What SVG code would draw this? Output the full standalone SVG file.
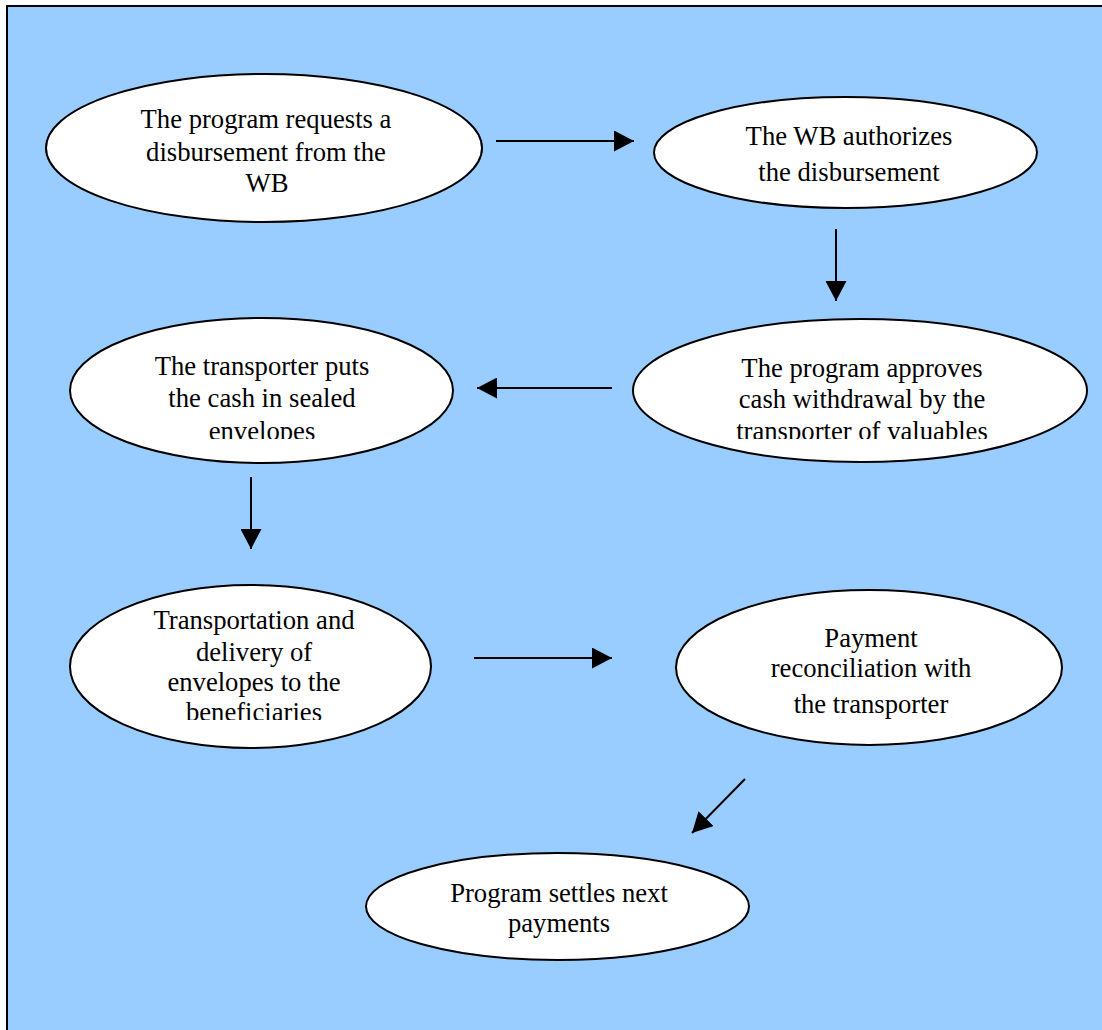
<svg xmlns="http://www.w3.org/2000/svg" width="1102" height="1030" viewBox="0 0 1102 1030">
  <style>
    .node ellipse { fill: #ffffff; stroke: #000000; stroke-width: 2; }
    .node text { font-family: "Liberation Serif", "Times New Roman", serif; font-size: 26.67px; fill: #000000; text-anchor: middle; }
    .edge { stroke: #000000; stroke-width: 2; fill: none; marker-end: url(#arrow); }
  </style>
  <defs>
    <marker id="arrow" markerUnits="userSpaceOnUse" markerWidth="20" markerHeight="21" refX="20" refY="10.5" orient="auto" viewBox="0 0 20 21">
      <path d="M0,0 L20,10.5 L0,21 Z" fill="#000000"/>
    </marker>
    <!-- text frames cut off the last line of the longer labels -->
    <clipPath id="clip-approve"><rect x="600" y="330" width="500" height="109"/></clipPath>
    <clipPath id="clip-envelopes"><rect x="60" y="330" width="420" height="109"/></clipPath>
    <clipPath id="clip-delivery"><rect x="60" y="590" width="400" height="130"/></clipPath>
  </defs>

  <!-- page background with frame -->
  <rect x="7" y="6" width="1110" height="1040" fill="#99CCFF" stroke="#000000" stroke-width="2"/>

  <g id="connectors">
    <line class="edge" x1="496" y1="141" x2="634" y2="141"/>
    <line class="edge" x1="836" y1="229" x2="836" y2="301"/>
    <line class="edge" x1="612" y1="388" x2="477" y2="388"/>
    <line class="edge" x1="251" y1="477" x2="251" y2="549"/>
    <line class="edge" x1="474" y1="658" x2="612" y2="658"/>
    <line class="edge" x1="745" y1="779" x2="692" y2="833"/>
  </g>

  <g id="node-request" class="node">
    <ellipse cx="264" cy="148" rx="218" ry="74"/>
    <text x="266" y="128">The program requests a</text>
    <text x="266" y="161">disbursement from the</text>
    <text x="267" y="192">WB</text>
  </g>

  <g id="node-authorize" class="node">
    <ellipse cx="845.5" cy="152.5" rx="191.5" ry="55.5"/>
    <text x="849" y="145">The WB authorizes</text>
    <text x="849" y="181">the disbursement</text>
  </g>

  <g id="node-approve" class="node">
    <ellipse cx="860" cy="390.5" rx="227" ry="71.5"/>
    <g clip-path="url(#clip-approve)">
      <text x="862" y="377">The program approves</text>
      <text x="862" y="408">cash withdrawal by the</text>
      <text x="862" y="440">transporter of valuables</text>
    </g>
  </g>

  <g id="node-envelopes" class="node">
    <ellipse cx="261.5" cy="390.5" rx="191.5" ry="72.5"/>
    <g clip-path="url(#clip-envelopes)">
      <text x="262" y="375">The transporter puts</text>
      <text x="262" y="407">the cash in sealed</text>
      <text x="262" y="440">envelopes</text>
    </g>
  </g>

  <g id="node-delivery" class="node">
    <ellipse cx="250.5" cy="666.5" rx="180.5" ry="81.5"/>
    <g clip-path="url(#clip-delivery)">
      <text x="254" y="629">Transportation and</text>
      <text x="254" y="661">delivery of</text>
      <text x="254" y="691">envelopes to the</text>
      <text x="254" y="721">beneficiaries</text>
    </g>
  </g>

  <g id="node-reconcile" class="node">
    <ellipse cx="869" cy="667.5" rx="193" ry="77.5"/>
    <text x="871" y="647">Payment</text>
    <text x="871" y="677">reconciliation with</text>
    <text x="871" y="713">the transporter</text>
  </g>

  <g id="node-settle" class="node">
    <ellipse cx="557.5" cy="906.5" rx="191.5" ry="53.5"/>
    <text x="559" y="902">Program settles next</text>
    <text x="559" y="932">payments</text>
  </g>
</svg>
